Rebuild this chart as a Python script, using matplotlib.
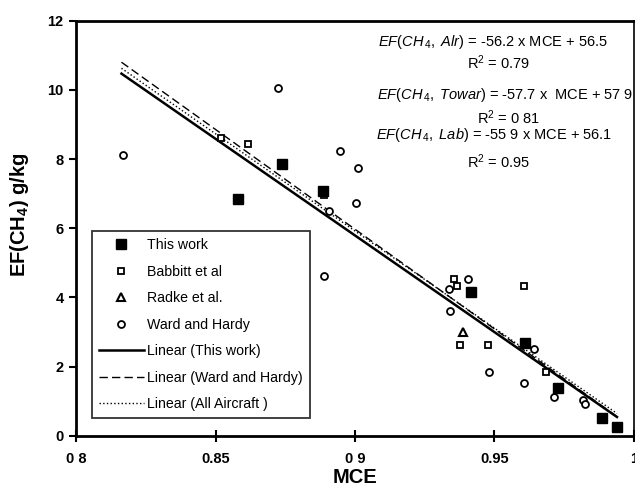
import numpy as np
import matplotlib
matplotlib.use("Agg")
from matplotlib import pyplot as plt

plt.rcParams['font.family'] = ['Liberation Sans', 'DejaVu Sans']
plt.rcParams['mathtext.fontset'] = 'custom'
plt.rcParams['mathtext.rm'] = 'Liberation Sans'
plt.rcParams['mathtext.it'] = 'Liberation Sans:italic'
plt.rcParams['mathtext.bf'] = 'Liberation Sans:bold'

# scatter data
this_work_x = [0.8581, 0.8738, 0.8886, 0.9417, 0.9608, 0.9726, 0.9886, 0.9939]
this_work_y = [6.83, 7.87, 7.08, 4.16, 2.69, 1.39, 0.51, 0.24]

babbitt_x = [0.8520, 0.8615, 0.8890, 0.9355, 0.9367, 0.9606, 0.9376, 0.9476, 0.9683]
babbitt_y = [8.62, 8.43, 6.96, 4.52, 4.33, 4.33, 2.62, 2.62, 1.84]

radke_x = [0.9386]
radke_y = [3.01]

ward_x = [0.8167, 0.8723, 0.8945, 0.9010, 0.9002, 0.8907, 0.8889, 0.9406,
          0.9336, 0.9342, 0.9640, 0.9481, 0.9606, 0.9713, 0.9818, 0.9826]
ward_y = [8.11, 10.04, 8.24, 7.73, 6.73, 6.50, 4.62, 4.53,
          4.23, 3.60, 2.51, 1.83, 1.53, 1.12, 1.03, 0.92]

# fitted lines (slope, intercept)
fit_this_work = (-55.9, 56.1)
fit_ward = (-57.7, 57.9)
fit_all = (-56.2, 56.5)
fit_range = [0.8163, 0.9939]

x_ticks = [0.8, 0.85, 0.9, 0.95, 1.0]
x_ticklabels = ['0 8', '0.85', '0 9', '0.95', '1']
y_ticks = [0, 2, 4, 6, 8, 10, 12]

fig = plt.figure(figsize=(6.35, 4.88), dpi=100)
ax = fig.add_axes([0.1197, 0.1072, 0.8787, 0.8504])

ax.plot(this_work_x, this_work_y, 's', color='black', ms=6.5, label='This work', zorder=5)
ax.plot(babbitt_x, babbitt_y, 's', mfc='white', mec='black', mew=1.3, ms=5, label='Babbitt et al', zorder=4)
ax.plot(radke_x, radke_y, '^', mfc='white', mec='black', mew=1.5, ms=5.5, label='Radke et al.', zorder=4)
ax.plot(ward_x, ward_y, 'o', mfc='white', mec='black', mew=1.3, ms=5, label='Ward and Hardy', zorder=4)

xs = np.array(fit_range)
ax.plot(xs, fit_this_work[0] * xs + fit_this_work[1], '-', color='black', lw=1.8,
        label='Linear (This work)', zorder=3)
ax.plot(xs, fit_ward[0] * xs + fit_ward[1], '--', color='black', lw=1.0, dashes=(6, 3),
        label='Linear (Ward and Hardy)', zorder=3)
ax.plot(xs, fit_all[0] * xs + fit_all[1], ':', color='black', lw=1.0,
        label='Linear (All Aircraft )', zorder=3)

ax.set_xlim(0.8, 1.0)
ax.set_ylim(0, 12)
ax.set_xticks(x_ticks)
ax.set_xticklabels(x_ticklabels)
ax.set_yticks(y_ticks)
for lab in ax.get_xticklabels() + ax.get_yticklabels():
    lab.set_fontweight('bold')
    lab.set_fontsize(10.5)
ax.tick_params(axis='x', direction='inout', length=8, width=1.5, pad=8)
ax.tick_params(axis='y', direction='out', length=5, width=1.5, pad=4)

for side in ['left', 'bottom', 'top']:
    ax.spines[side].set_linewidth(2)
ax.spines['right'].set_linewidth(1.2)

ax.set_xlabel('MCE', fontsize=14.5, fontweight='bold', labelpad=1)
ax.set_ylabel(r'EF(CH$_\mathbf{4}$) g/kg', fontsize=14.5, fontweight='bold', labelpad=10)
ax.yaxis.set_label_coords(-0.081, 0.532)

# trendline equations
eq_kw = dict(transform=ax.transAxes, fontsize=10.5, va='center')
ax.text(0.953, 0.949, r'$\mathit{EF(CH}_{\,4}\mathit{,\ Alr)}$ = -56.2 x MCE + 56.5', ha='right', **eq_kw)
ax.text(0.758, 0.898, r'R$^2$ = 0.79', ha='center', **eq_kw)
ax.text(0.998, 0.821, r'$\mathit{EF(CH}_{\,4}\mathit{,\ Towar)}$ = -57.7 x  MCE + 57 9', ha='right', **eq_kw)
ax.text(0.776, 0.766, r'R$^2$ = 0 81', ha='center', **eq_kw)
ax.text(0.961, 0.725, r'$\mathit{EF(CH}_{\,4}\mathit{,\ Lab)}$ = -55 9 x MCE + 56.1', ha='right', **eq_kw)
ax.text(0.758, 0.660, r'R$^2$ = 0.95', ha='center', **eq_kw)

leg = ax.legend(loc='lower left', bbox_to_anchor=(0.028, 0.042), borderaxespad=0,
                fontsize=10.2, frameon=True, fancybox=False, edgecolor='black',
                labelspacing=0.88, handlelength=3.2, handletextpad=0.2, borderpad=0.5)
leg.get_frame().set_linewidth(1.3)

fig.savefig('out.png', dpi=100)
